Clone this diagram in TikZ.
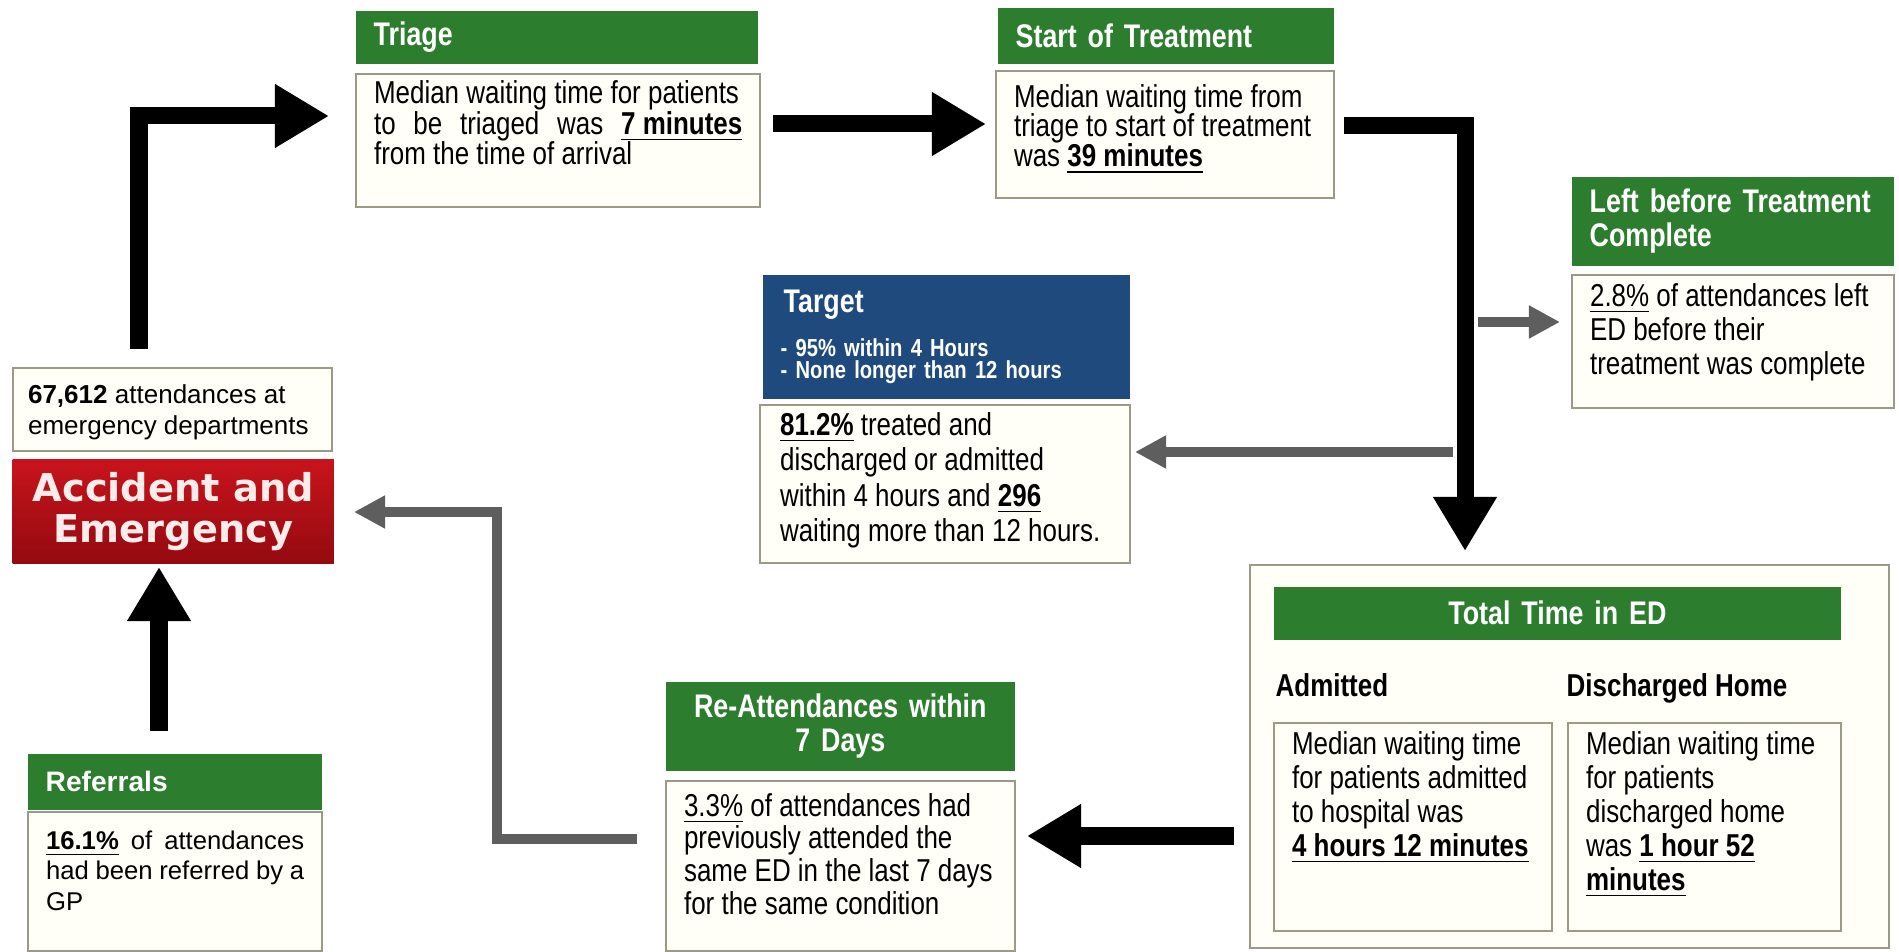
\documentclass[tikz,border=0pt]{standalone}
\usepackage{fontspec}
\setmainfont{Liberation Sans}[FakeStretch=0.82]
\newfontfamily\widefont{Liberation Sans}
\newfontfamily\aefont{DejaVu Sans}
\usetikzlibrary{arrows.meta}

\begin{document}
\begin{tikzpicture}
		[x=0.01cm,y=-0.01cm,line join=miter,
		%Styles
		green head/.style={anchor=north west,fill=edgreen,text=white,inner xsep=0.18cm,inner ysep=0pt,
			align=left,font=\fontsize{9.3}{9.6}\selectfont\bfseries},
		info box/.style={anchor=north west,draw=edline,line width=0.6pt,fill=edfill,inner xsep=0.18cm,
			inner ysep=0.05cm,align=left,font=\fontsize{9}{9.4}\selectfont,
			execute at begin node={\spaceskip=0pt\xspaceskip=0pt\relax}},
		sub title/.style={anchor=base west,inner sep=0pt,font=\fontsize{9}{9}\selectfont\bfseries},
		big arrow/.style={line width=0.17cm,-{Triangle[width=0.6cm,length=0.54cm]}},
		grey arrow/.style={line width=0.095cm,draw=arrowgrey,-{Triangle[width=0.31cm,length=0.31cm]}}
		]
		
		%Colors
		\definecolor{edgreen}{HTML}{2D7D2E}
		\definecolor{edblue}{HTML}{1F4A7E}
		\definecolor{edline}{HTML}{9B9A86}
		\definecolor{edfill}{HTML}{FFFFF8}
		\definecolor{arrowgrey}{HTML}{5E5E5E}
		\definecolor{aetop}{HTML}{C8141C}
		\definecolor{aebottom}{HTML}{940A10}
		\definecolor{aetext}{HTML}{FBECEC}
		
		\fill[white] (0,0) rectangle (1899,952);
		\useasboundingbox (0,0) rectangle (1899,952);
		
		%Arrivals
		\node[info box,inner xsep=0.15cm,text width=2.89cm,text height=0.30cm,text depth=0.43cm,
			font=\widefont\fontsize{7.4}{8.8}\selectfont] (count) at (12,367)
			{\textbf{67,612} attendances at\\emergency departments};
		\node[anchor=north west,top color=aetop,bottom color=aebottom,minimum width=3.21cm,minimum height=1.04cm,
			inner sep=0pt,align=center,text=aetext,font=\aefont\bfseries\fontsize{10.9}{11.7}\selectfont] (ae) at (12,459)
			{Accident and\\Emergency};
		\node[green head,text width=2.58cm,minimum height=0.56cm,font=\widefont\bfseries\fontsize{8}{8}\selectfont] (refhead) at (27,753) {Referrals};
		\node[info box,text width=2.58cm,text height=0.32cm,text depth=0.97cm,
			font=\widefont\fontsize{7.3}{8.7}\selectfont] (referrals) at (27,811)
			{\makebox[\hsize][s]{\underline{\textbf{16.1\%}} of attendances}\\
			\makebox[\hsize][s]{had been referred by a}\\GP};
		
		%Triage and treatment
		\node[green head,text width=3.66cm,minimum height=0.53cm] (triagehead) at (355,10) {Triage};
		\node[info box,text width=3.68cm,text height=0.24cm,text depth=0.99cm,font=\fontsize{9}{8.8}\selectfont] (triage) at (355,73)
			{Median waiting time for patients\\
			\makebox[\hsize][s]{to be triaged was \underline{\textbf{7 minutes}}}\\
			from the time of arrival};
		\node[green head,text width=3.00cm,minimum height=0.56cm] (starthead) at (997,7) {Start of Treatment};
		\node[info box,text width=3.02cm,text height=0.31cm,text depth=0.86cm,font=\fontsize{9}{8.5}\selectfont] (start) at (995,70)
			{Median waiting time from\\triage to start of treatment\\was \underline{\textbf{39 minutes}}};
		\node[green head,text width=2.86cm,minimum height=0.89cm] (lefthead) at (1571,176) {Left before Treatment\\Complete};
		\node[info box,text width=2.86cm,text height=0.26cm,text depth=0.97cm,font=\fontsize{9}{9.7}\selectfont] (left) at (1571,274)
			{\underline{2.8\%} of attendances left\\ED before their\\treatment was complete};
		
		%Target
		\node[green head,fill=edblue,text width=3.31cm,minimum height=1.24cm,font=\fontsize{7}{7}\selectfont\bfseries] (targethead) at (762,274)
			{\hspace{0.03cm}{\fontsize{9.3}{9.3}\selectfont Target}\\[4.5pt]- 95\% within 4 Hours\\[-0.9pt]- None longer than 12 hours};
		\node[info box,inner xsep=0.2cm,text width=3.30cm,text height=0.25cm,text depth=1.23cm,font=\fontsize{9}{10.1}\selectfont] (target) at (759,404)
			{\underline{\textbf{81.2\%}} treated and\\discharged or admitted\\within 4 hours and \underline{\textbf{296}}\\waiting more than 12 hours.};
		
		%Total time in ED
		\node[anchor=north west,draw=edline,line width=0.6pt,fill=edfill,minimum width=6.39cm,minimum height=3.83cm,inner sep=0pt] (total) at (1249,564) {};
		\node[green head,text width=5.31cm,minimum height=0.53cm,align=center] (totalhead) at (1273,586) {Total Time in ED};
		\node[sub title] (admittedlabel) at (1275,697) {Admitted};
		\node[sub title] (homelabel) at (1566,697) {Discharged Home};
		\node[info box,text width=2.42cm,text height=0.26cm,text depth=1.72cm,font=\fontsize{9}{9.7}\selectfont] (admitted) at (1273,722)
			{Median waiting time\\for patients admitted\\to hospital was\\\underline{\textbf{4 hours 12 minutes}}};
		\node[info box,text width=2.37cm,text height=0.26cm,text depth=1.72cm,font=\fontsize{9}{9.7}\selectfont] (home) at (1567,722)
			{Median waiting time\\for patients\\discharged home\\was \underline{\textbf{1 hour 52}}\\\underline{\textbf{minutes}}};
		
		%Re-attendances
		\node[green head,text width=3.13cm,minimum height=0.89cm,align=center] (reatthead) at (665,681) {Re-Attendances within\\7 Days};
		\node[info box,text width=3.13cm,text height=0.30cm,text depth=1.30cm,font=\fontsize{9}{9.3}\selectfont] (reatt) at (665,780)
			{\underline{3.3\%} of attendances had\\previously attended the\\same ED in the last 7 days\\for the same condition};
		
		%Arrow ends
		\coordinate (a1s) at (139,349); \coordinate (a1e) at (329,116);
		\coordinate (a2s) at (773,124); \coordinate (a2e) at (986,124);
		\coordinate (a3s) at (1344,126); \coordinate (a3e) at (1465,551);
		\coordinate (a4s) at (1478,322); \coordinate (a4e) at (1560,322);
		\coordinate (a5s) at (1453,452); \coordinate (a5e) at (1135,452);
		\coordinate (a6s) at (1234,836); \coordinate (a6e) at (1027,836);
		\coordinate (a7s) at (637,839); \coordinate (a7b) at (497,512); \coordinate (a7e) at (354,512);
		\coordinate (a8s) at (159,731); \coordinate (a8e) at (159,567);
		
		%The arrows
		\draw[big arrow] (a1s) |- (a1e);
		\draw[big arrow] (a2s) -- (a2e);
		\draw[big arrow] (a3s) -| (a3e);
		\draw[grey arrow] (a4s) -- (a4e);
		\draw[grey arrow] (a5s) -- (a5e);
		\draw[big arrow] (a6s) -- (a6e);
		\draw[grey arrow] (a7s) -| (a7b) -- (a7e);
		\draw[big arrow] (a8s) -- (a8e);
\end{tikzpicture}
\end{document}
